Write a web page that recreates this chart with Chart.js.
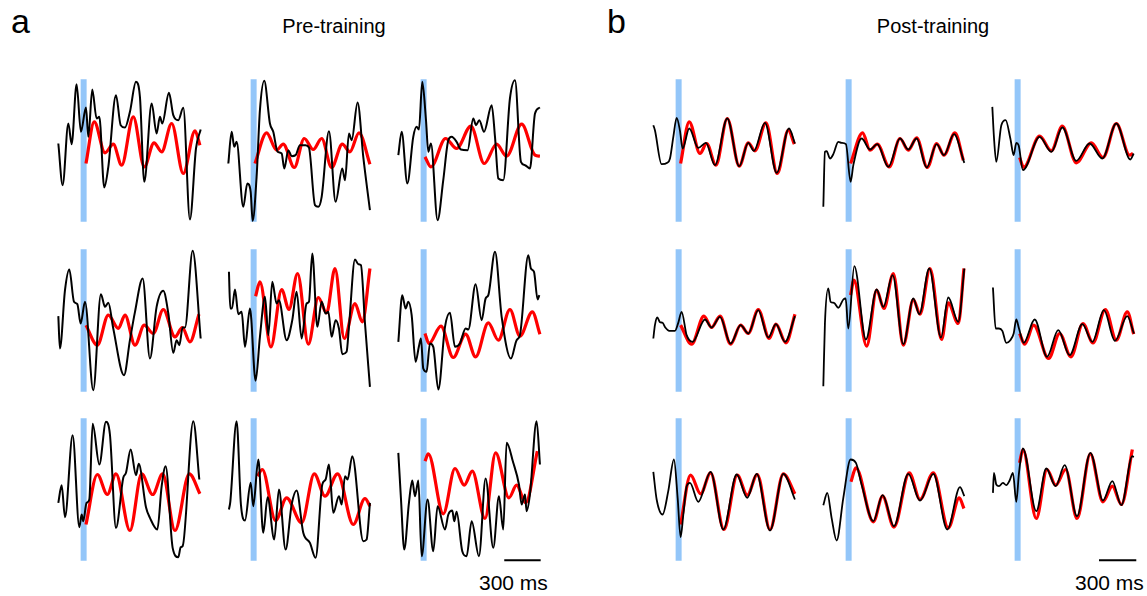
<!DOCTYPE html>
<html>
<head>
<meta charset="utf-8">
<script src="https://cdn.jsdelivr.net/npm/chart.js@4.4.1/dist/chart.umd.min.js"></script>
<style>
  body { margin: 0; background: #fff; width: 1147px; height: 596px; position: relative; overflow: hidden;
         font-family: "Liberation Sans", Arial, Helvetica, sans-serif; color: #000; }
  canvas { position: absolute; }
  .lbl { position: absolute; line-height: 1; white-space: nowrap; }
</style>
</head>
<body>
<div class="lbl" id="labelA" style="left:11px; top:4px; font-size:34px;"></div>
<div class="lbl" id="labelB" style="left:607px; top:4px; font-size:34px;"></div>
<div class="lbl" id="titlePre" style="left:234px; width:200px; text-align:center; top:16px; font-size:20px;"></div>
<div class="lbl" id="titlePost" style="left:833px; width:200px; text-align:center; top:16px; font-size:20px;"></div>
<div class="lbl" id="scaleTextL" style="left:479px; top:572px; font-size:21px;"></div>
<div class="lbl" id="scaleTextR" style="left:1075px; top:572px; font-size:21px;"></div>
<script>
// time in ms (stimulus at 0), signal in arbitrary units
const panelLetters = ['a', 'b'];
const groupTitles = ['Pre-training', 'Post-training'];
const scaleLabel = '300 ms';

const stimBar = [[0, -107], [0, 107]];
const scaleBarPre = [[653, -106], [948, -106]];
const scaleBarPost = [[659, -106], [961, -106]];

// ---- pre-training, row 1
const preBlack1 = [[-205,10.5],[-170,-52],[-124,40.5],[-97,9.5],[-57,99.5],[-22,28],[19,64.5],[38,20.5],[70,91.5],[105,48],[127,50.5],[167,-55.5],[200,-24.5],[262,83],[300,38],[335,34.5],[375,58],[424,103],[456,80.5],[491,-47],[551,70.5],[591,25.5],[618,50.5],[637,40.5],[691,86.5],[726,53],[767,45.5],[807,64],[861,-103.5],[910,3],[948,31.5]];
const preRed1 = [[19,-19.5],[86,43],[173,-3.5],[240,9.5],[308,-22],[402,50.5],[491,-24.5],[570,11.5],[632,-2],[713,40.5],[807,-34.5],[902,29.5],[942,8]];
const preBlack2 = [[-205,-19.5],[-178,28],[-157,5.5],[-138,13],[-84,-84.5],[-51,-49.5],[-24,-62],[-8,-105.5],[24,-39.5],[51,60.5],[86,104.5],[132,40.5],[159,28],[194,-2],[227,-4.5],[248,-27],[281,0.5],[308,-8.5],[340,-7],[375,8],[421,8],[448,4.5],[497,-82],[524,-84.5],[551,-69.5],[610,29],[664,-77],[718,-27],[740,-44.5],[772,25.5],[794,15.5],[842,72],[888,-9.5],[942,-89.5]];
const preRed2 = [[11,-19.5],[105,26.5],[186,0.5],[240,9.5],[329,-25.5],[410,18],[483,1.5],[551,18],[632,-25.5],[718,9.5],[780,-2],[853,26.5],[942,-20.5]];
const preBlack3 = [[-205,-7],[-178,28],[-132,-49.5],[-84,20.5],[-57,35.5],[-38,31.5],[-11,103],[19,45.5],[38,-2],[59,10.5],[113,-104.5],[159,-44.5],[200,15.5],[227,20.5],[267,13],[302,1.5],[356,0.5],[402,48],[424,38],[451,45.5],[489,28],[551,68],[578,20.5],[605,-42],[645,-44.5],[699,78],[740,105.5],[788,-17],[821,-22],[861,-27],[902,55.5],[942,64.5]];
const preRed3 = [[11,-9.5],[59,-24.5],[178,18],[267,3],[383,36.5],[491,-19.5],[591,9.5],[672,-8.5],[794,39.5],[902,-7],[942,-8.5]];

// ---- pre-training, row 2
const preBlack4 = [[-205,6.5],[-192,-42],[-151,45.5],[-116,76.5],[-78,28],[-51,24.5],[-24,-4.5],[11,28],[78,-104.5],[140,39.5],[173,20.5],[200,26.5],[240,-12],[327,-82],[375,-29.5],[416,13],[478,63],[537,-57],[591,20.5],[645,44.5],[686,10.5],[726,-48.5],[753,-29.5],[775,-37],[802,-10.5],[821,-10.5],[883,104.5],[948,-27]];
const preRed4 = [[19,-7],[111,-37],[200,8],[281,-12],[335,8],[416,-37],[491,-7],[564,-19.5],[645,16.5],[740,-24.5],[799,-10.5],[861,-32],[934,9.5]];
const preBlack5 = [[-200,73],[-189,18],[-176,18],[-151,46.5],[-124,9.5],[-97,13],[-70,-39.5],[-30,18],[16,-90.5],[51,-24.5],[92,35.5],[119,-22],[151,58],[186,25.5],[205,30.5],[267,-29.5],[313,0.5],[348,43],[389,-27],[429,25.5],[448,28],[475,100.5],[516,-9.5],[551,28],[583,10.5],[605,13],[632,-24.5],[664,0.5],[691,-12],[718,-50.5],[753,-47],[772,-9.5],[821,91.5],[848,84.5],[869,83],[902,-4.5],[942,-99.5]];
const preRed5 = [[16,36.5],[51,58],[140,-39.5],[227,46.5],[286,16.5],[356,70.5],[443,-35.5],[524,34.5],[591,11.5],[659,78],[734,-27],[821,25.5],[880,-2],[942,78]];
const preBlack6 = [[-205,-32],[-173,38],[-146,18],[-124,28],[-97,8],[-65,-62],[-38,-38.5],[-22,-27],[-3,-72],[24,-77],[51,-34.5],[78,-39.5],[119,-103.5],[173,-9.5],[213,11.5],[254,-39.5],[294,-34.5],[340,-12],[362,-13.5],[421,54.5],[470,0.5],[502,33],[524,38],[578,103],[632,5.5],[707,-57],[753,-29.5],[780,-22],[848,98],[869,78],[894,73],[923,31.5],[937,38]];
const preRed6 = [[11,-19.5],[43,-34.5],[140,-8.5],[240,-55.5],[340,-20.5],[421,-54.5],[524,-3.5],[605,-29.5],[699,16.5],[780,-23.5],[880,13],[942,-20.5]];

// ---- pre-training, row 3
const preBlack7 = [[-205,-20],[-178,6.5],[-151,-41.5],[-89,81.5],[-35,-56.5],[-16,-37.5],[-3,-47.5],[24,-20],[46,-15],[73,98.5],[127,37.5],[181,101.5],[213,82.5],[262,-57.5],[321,17.5],[343,25],[381,60],[424,21.5],[446,38.5],[505,-26.5],[537,-42.5],[597,-60],[632,5],[664,35],[721,-87.5],[767,-101.5],[786,-86.5],[802,-85],[888,102.5],[937,15]];
const preRed7 = [[19,-52.5],[111,22.5],[192,-7.5],[262,23.5],[375,-61.5],[470,23.5],[559,-7.5],[640,23.5],[740,-61.5],[856,23.5],[942,-6.5]];
const preBlack8 = [[-200,-30],[-189,-18.5],[-138,102.5],[-103,-22.5],[-70,-46.5],[-24,10],[-3,-25],[38,45],[78,-65],[113,-11.5],[167,-75],[205,0],[259,-90],[308,-22.5],[348,-1.5],[402,-65],[456,-80],[502,-102.5],[556,7.5],[583,15],[610,37.5],[645,-35],[691,-10],[713,-22.5],[740,20],[761,15],[799,50],[888,-77.5],[915,-75],[942,-20]];
const preRed8 = [[32,20],[70,30],[178,-46.5],[267,-12.5],[389,-50],[491,23.5],[578,-10],[680,23.5],[807,-52.5],[902,-13.5],[942,-25]];
const preBlack9 = [[-205,55],[-184,-12.5],[-157,-90],[-119,-20],[-92,13.5],[-70,-10],[-43,13.5],[-16,-100],[32,-15],[78,-92.5],[113,-25],[173,-60],[200,-37.5],[232,-31.5],[248,-47.5],[267,-33.5],[313,-92.5],[348,-100],[389,-47.5],[448,-100],[502,16.5],[564,-87.5],[610,-10],[645,-60],[672,70],[726,40],[772,7.5],[794,-22.5],[821,-7.5],[834,-32.5],[861,-7.5],[915,102.5],[942,37.5]];
const preRed9 = [[11,42.5],[38,53.5],[159,-36.5],[254,31.5],[329,6.5],[394,27.5],[497,-43.5],[583,55],[691,-12.5],[753,6.5],[826,-20],[921,57.5]];

// ---- post-training, row 1
const postBlack1 = [[-205,38],[-192,30.5],[-138,-20.5],[-92,-18.5],[-70,-12],[-43,20.5],[-16,49],[11,29.5],[32,3],[86,33],[159,4],[221,11.5],[294,-22],[394,48],[491,-23.5],[564,11.5],[610,-0.5],[699,41.5],[794,-33.5],[894,33],[942,10.5]];
const postRed1 = [[16,-19.5],[86,43],[173,-4.5],[227,10.5],[302,-22],[394,48],[491,-23.5],[564,11.5],[618,-0.5],[707,41.5],[799,-34.5],[888,30.5],[937,9.5]];
const postBlack2 = [[-205,-84.5],[-192,-2],[-178,-1],[-151,-12],[-124,-5.5],[-84,13],[-57,11.5],[-22,9.5],[16,-47],[38,-22],[105,18],[173,1.5],[232,9.5],[321,-24.5],[416,18],[483,1.5],[551,18],[632,-25.5],[713,9.5],[772,-7],[853,24.5],[937,-18.5]];
const postRed2 = [[16,-19.5],[113,26.5],[173,0.5],[232,9.5],[329,-24.5],[416,18],[483,0.5],[551,19],[637,-25.5],[713,10.5],[772,-7],[861,26.5],[929,-14.5]];
const postBlack3 = [[-205,65.5],[-192,20.5],[-173,-17],[-132,38],[-97,45.5],[-59,18],[-32,-7],[-11,11.5],[8,8],[43,-29.5],[178,20.5],[273,-2],[362,34.5],[475,-15.5],[583,10.5],[686,-12],[799,40.5],[913,-13.5],[940,-4.5]];
const postRed3 = [[16,-10.5],[49,-25.5],[178,21.5],[273,-0.5],[362,36.5],[475,-18.5],[597,11.5],[691,-10.5],[799,40.5],[907,-7],[934,-4.5]];

// ---- post-training, row 2
const postBlack4 = [[-205,-27],[-192,-7],[-173,4.5],[-151,-2.5],[-130,-3.5],[-108,-10.5],[-76,-15.5],[-30,-15.5],[-3,-3.5],[24,13],[65,-22],[113,-32],[213,1.5],[267,-10.5],[335,5.5],[421,-34.5],[502,-7],[564,-19.5],[645,15.5],[726,-25.5],[788,-5.5],[861,-32],[942,6.5]];
const postRed4 = [[16,-7],[105,-35.5],[205,6.5],[267,-10.5],[335,6.5],[421,-35.5],[502,-7],[564,-19.5],[645,16.5],[734,-27],[788,-5.5],[869,-33.5],[942,9.5]];
const postBlack5 = [[-205,-98.5],[-192,-4.5],[-165,48],[-146,28],[-119,26.5],[-84,19],[-43,31.5],[-24,33],[-3,-12],[46,81.5],[140,-28.5],[227,46.5],[281,20.5],[356,68],[443,-35.5],[524,33],[572,9.5],[653,78],[748,-25.5],[807,34.5],[888,-2],[937,78]];
const postRed5 = [[16,38],[43,60.5],[146,-38.5],[227,45.5],[286,18],[362,70.5],[443,-37],[524,31.5],[578,9.5],[659,78],[753,-28.5],[807,26.5],[888,-4.5],[934,78]];
const postBlack6 = [[-200,49.5],[-178,-12],[-151,-12],[-124,-15.5],[-92,-33.5],[-59,-29.5],[-32,-19.5],[-11,1.5],[11,-12],[49,-33.5],[138,1.5],[238,-54.5],[329,-14.5],[421,-52],[524,-5.5],[605,-32],[699,15.5],[788,-30.5],[888,6.5],[942,-19.5]];
const postRed6 = [[16,-19.5],[57,-35.5],[130,-7],[251,-57],[340,-19.5],[432,-54.5],[529,-4.5],[610,-33.5],[710,16.5],[799,-29.5],[888,13],[940,-20.5]];

// ---- post-training, row 3
const postBlack7 = [[-205,26.5],[-178,-15],[-130,-37.5],[-84,-2.5],[-38,45],[-8,-12.5],[16,-71.5],[38,-37.5],[65,5],[92,10],[159,-18.5],[259,26.5],[362,-60],[470,22.5],[556,-12.5],[632,23.5],[740,-61.5],[848,23.5],[942,-15]];
const postRed7 = [[16,-52.5],[97,21.5],[178,-6.5],[259,25],[367,-60],[475,21.5],[556,-8.5],[637,22.5],[740,-60],[848,23.5],[942,-6.5]];
const postBlack8 = [[-205,-23.5],[-173,-5],[-138,-42.5],[-97,-76.5],[-43,-12.5],[16,45],[59,40],[105,7.5],[200,-47.5],[275,-8.5],[367,-55],[483,23.5],[578,-16.5],[686,23.5],[799,-60],[902,3.5],[937,-10]];
const postRed8 = [[19,11.5],[59,32.5],[200,-48.5],[275,-10],[367,-56.5],[491,25],[578,-15],[686,25],[807,-57.5],[896,-12.5],[934,-28.5]];
const postBlack9 = [[-200,-5],[-192,25],[-173,7.5],[-151,5],[-119,10],[-92,6.5],[-65,13.5],[-38,25],[-11,-18.5],[11,25],[43,61.5],[151,-32.5],[232,31.5],[308,5],[381,36.5],[481,-40],[589,55],[691,-16.5],[767,12.5],[840,-23.5],[929,50],[940,48.5]];
const postRed9 = [[16,40],[43,60],[151,-43.5],[238,30],[308,6.5],[389,30],[481,-43.5],[589,53.5],[691,-18.5],[767,5],[840,-22.5],[929,60]];

const toXY = arr => arr.map(p => ({ x: p[0], y: p[1] }));

const panels = [
  { left: 54,  top: 69,  black: preBlack1, red: preRed1 },
  { left: 224, top: 69,  black: preBlack2, red: preRed2 },
  { left: 394, top: 69,  black: preBlack3, red: preRed3 },
  { left: 54,  top: 239, black: preBlack4, red: preRed4 },
  { left: 224, top: 239, black: preBlack5, red: preRed5 },
  { left: 394, top: 239, black: preBlack6, red: preRed6 },
  { left: 54,  top: 408, black: preBlack7, red: preRed7 },
  { left: 224, top: 408, black: preBlack8, red: preRed8 },
  { left: 394, top: 408, black: preBlack9, red: preRed9, scale: scaleBarPre },
  { left: 649, top: 69,  black: postBlack1, red: postRed1, post: true },
  { left: 819, top: 69,  black: postBlack2, red: postRed2, post: true },
  { left: 988, top: 69,  black: postBlack3, red: postRed3, post: true },
  { left: 649, top: 239, black: postBlack4, red: postRed4, post: true },
  { left: 819, top: 239, black: postBlack5, red: postRed5, post: true },
  { left: 988, top: 239, black: postBlack6, red: postRed6, post: true },
  { left: 649, top: 408, black: postBlack7, red: postRed7, post: true },
  { left: 819, top: 408, black: postBlack8, red: postRed8, post: true },
  { left: 988, top: 408, black: postBlack9, red: postRed9, post: true, scale: scaleBarPost }
];

panels.forEach(p => {
  const canvas = document.createElement('canvas');
  canvas.width = 151;
  canvas.height = 163;
  canvas.style.left = p.left + 'px';
  canvas.style.top = p.top + 'px';
  document.body.appendChild(canvas);

  const datasets = [
    { data: toXY(p.black), borderColor: '#000', borderWidth: p.post ? 1.8 : 2,
      cubicInterpolationMode: 'monotone', tension: 0.4, order: 1 },
    { data: toXY(p.red), borderColor: '#ff0000', borderWidth: 3.2,
      cubicInterpolationMode: 'monotone', tension: 0.4, order: 2 },
    { data: toXY(stimBar), borderColor: '#93c6f9', borderWidth: 6, tension: 0, order: 3 }
  ];
  if (p.scale) {
    datasets.push({ data: toXY(p.scale), borderColor: '#000', borderWidth: 2, tension: 0, order: 0 });
  }

  new Chart(canvas.getContext('2d'), {
    type: 'line',
    data: { datasets: datasets },
    options: {
      responsive: false,
      animation: false,
      events: [],
      layout: { padding: 0 },
      elements: { point: { radius: 0 }, line: { borderCapStyle: 'butt', borderJoinStyle: 'round' } },
      plugins: { legend: { display: false }, tooltip: { enabled: false } },
      scales: {
        x: { type: 'linear', display: false, min: -240, max: 983 },
        y: { type: 'linear', display: false, min: -122.25, max: 122.25 }
      }
    }
  });
});

document.getElementById('labelA').textContent = panelLetters[0];
document.getElementById('labelB').textContent = panelLetters[1];
document.getElementById('titlePre').textContent = groupTitles[0];
document.getElementById('titlePost').textContent = groupTitles[1];
document.getElementById('scaleTextL').textContent = scaleLabel;
document.getElementById('scaleTextR').textContent = scaleLabel;
</script>
</body>
</html>
